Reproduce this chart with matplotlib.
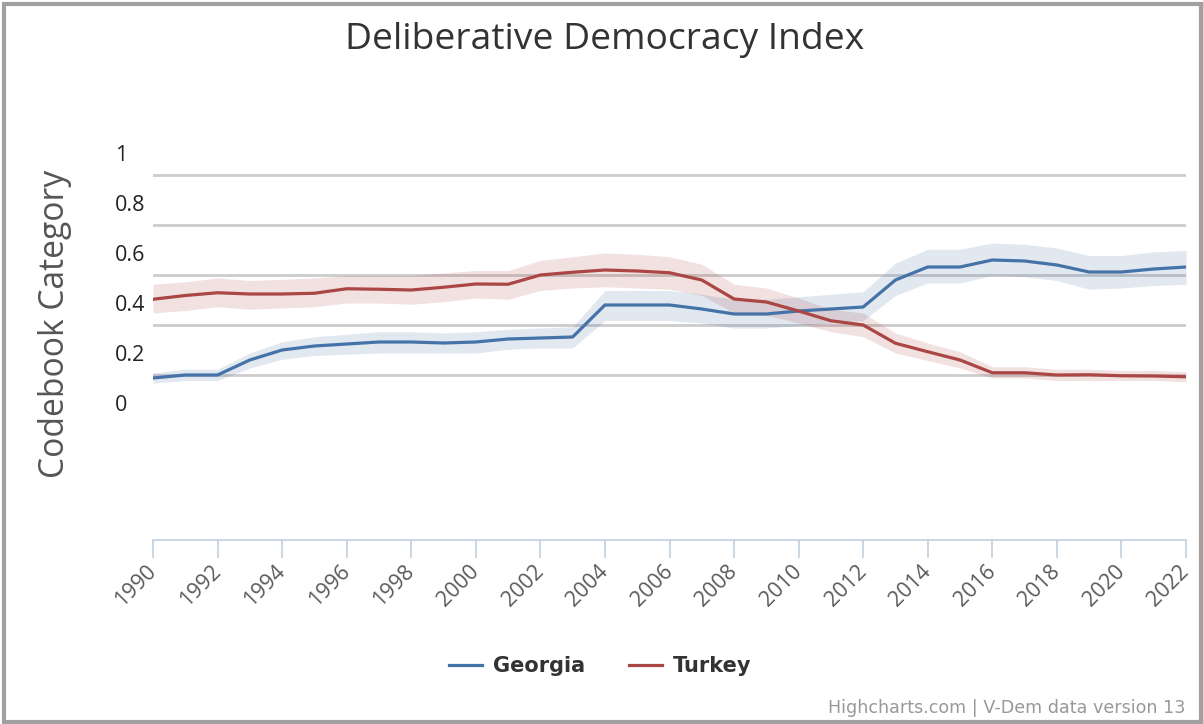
import matplotlib.pyplot as plt
import matplotlib.transforms as mtransforms
from matplotlib.patches import Rectangle
import numpy as np

years = list(range(1990, 2023))

georgia = [0.100, 0.112, 0.112, 0.172, 0.212, 0.228, 0.236, 0.244, 0.244, 0.240, 0.244,
           0.256, 0.260, 0.264, 0.392, 0.392, 0.392, 0.376, 0.356, 0.356, 0.368, 0.376,
           0.384, 0.492, 0.544, 0.544, 0.572, 0.568, 0.552, 0.524, 0.524, 0.536, 0.544]
georgia_lo = [0.080, 0.090, 0.090, 0.140, 0.175, 0.190, 0.195, 0.200, 0.200, 0.200, 0.200,
              0.215, 0.220, 0.220, 0.330, 0.330, 0.330, 0.320, 0.300, 0.300, 0.310, 0.320,
              0.330, 0.430, 0.480, 0.480, 0.510, 0.505, 0.490, 0.455, 0.460, 0.470, 0.475]
georgia_hi = [0.120, 0.135, 0.135, 0.200, 0.245, 0.265, 0.275, 0.285, 0.285, 0.280, 0.285,
              0.295, 0.300, 0.305, 0.450, 0.450, 0.450, 0.435, 0.415, 0.415, 0.425, 0.435,
              0.445, 0.560, 0.615, 0.615, 0.640, 0.635, 0.620, 0.590, 0.590, 0.605, 0.610]

turkey = [0.415, 0.430, 0.441, 0.436, 0.436, 0.439, 0.457, 0.455, 0.452, 0.463, 0.476,
          0.475, 0.512, 0.523, 0.532, 0.528, 0.521, 0.492, 0.416, 0.404, 0.368, 0.329,
          0.312, 0.239, 0.205, 0.172, 0.121, 0.121, 0.112, 0.113, 0.109, 0.108, 0.105]
turkey_lo = [0.360, 0.370, 0.385, 0.375, 0.380, 0.385, 0.400, 0.400, 0.395, 0.405, 0.420,
             0.415, 0.450, 0.460, 0.465, 0.460, 0.455, 0.430, 0.360, 0.350, 0.320, 0.285,
             0.265, 0.200, 0.170, 0.140, 0.100, 0.100, 0.090, 0.090, 0.090, 0.090, 0.085]
turkey_hi = [0.475, 0.485, 0.500, 0.490, 0.495, 0.500, 0.510, 0.510, 0.510, 0.520, 0.530,
             0.530, 0.570, 0.585, 0.600, 0.595, 0.585, 0.555, 0.475, 0.460, 0.420, 0.375,
             0.360, 0.280, 0.240, 0.205, 0.145, 0.145, 0.135, 0.135, 0.130, 0.130, 0.125]

yticks = [0, 0.2, 0.4, 0.6, 0.8, 1]
ytick_labels = ['0', '0.2', '0.4', '0.6', '0.8', '1']
xticks = list(range(1990, 2023, 2))

blue = '#4572A7'
red = '#AA4643'

fig = plt.figure(figsize=(12.03, 7.24), dpi=100)
ax = fig.add_axes([153/1203, 184/724, 1033/1203, 400/724])
ax.set_xlim(1990, 2022)
ax.set_ylim(-0.548, 1.052)

# horizontal grid drawn a little below the label positions
shift = mtransforms.ScaledTranslation(0, -22/100, fig.dpi_scale_trans)
for v in yticks[1:]:
    ax.plot([0, 1], [v, v], color='#cccccc', lw=2.0,
            transform=ax.get_yaxis_transform() + shift, zorder=0)

ax.fill_between(years, georgia_lo, georgia_hi, color=blue, alpha=0.16, lw=0, zorder=1)
ax.fill_between(years, turkey_lo, turkey_hi, color=red, alpha=0.16, lw=0, zorder=1)
l1, = ax.plot(years, georgia, color=blue, lw=2.3, label='Georgia', zorder=3)
l2, = ax.plot(years, turkey, color=red, lw=2.3, label='Turkey', zorder=3)

for s in ['top', 'right', 'left']:
    ax.spines[s].set_visible(False)
ax.spines['bottom'].set_color('#C0D0E0')
ax.spines['bottom'].set_linewidth(1.2)

ax.set_yticks(yticks)
ax.set_yticklabels(ytick_labels, fontsize=15.5, family='Open Sans', color='#222222')
for t in ax.get_yticklabels():
    t.set_horizontalalignment('left')
ax.tick_params(axis='y', length=0, pad=27.4)

ax.set_xticks(xticks)
ax.set_xticklabels([str(x) for x in xticks], rotation=45, ha='right', va='center',
                   rotation_mode='anchor', fontsize=15.5, family='Open Sans', color='#5a5a5a')
ax.tick_params(axis='x', length=13, width=1.2, color='#C0D0E0', pad=7.5)

fig.text(605/1203, 1 - 40/724, 'Deliberative Democracy Index', ha='center', va='center',
         fontsize=26.8, family='Open Sans', color='#333333')
fig.text(55/1203, 1 - 324/724, 'Codebook Category', rotation=90, ha='center', va='center',
         fontsize=24.2, family='Open Sans', color='#555555')

fig.legend(handles=[l1, l2], loc='center', bbox_to_anchor=(600/1203, 1 - 666/724),
           ncol=2, frameon=False, handlelength=1.6, handletextpad=0.5, columnspacing=2.1,
           prop={'family': 'DejaVu Sans', 'weight': 'bold', 'size': 15})
for t in fig.legends[0].get_texts():
    t.set_color('#333333')

fig.text(1185/1203, 1 - 708/724, 'Highcharts.com | V-Dem data version 13', ha='right',
         va='center', fontsize=12.6, family='DejaVu Sans', color='#999999')

# outer frame
fig.patches.append(Rectangle((4/1203, 2/724), 1197/1203, 718/724, transform=fig.transFigure,
                             fill=False, edgecolor='#a0a0a0', lw=3, zorder=10))

fig.savefig('out.png', dpi=100)
